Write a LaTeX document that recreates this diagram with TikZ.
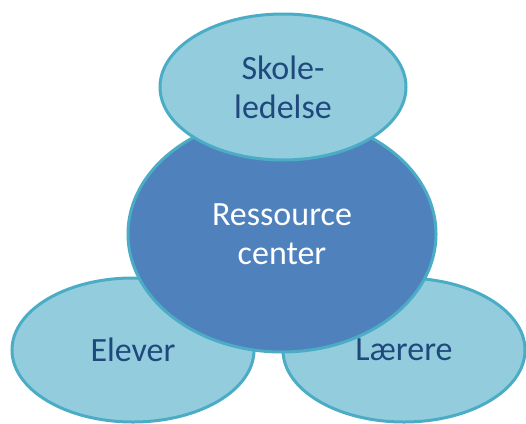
\documentclass[tikz,border=0pt]{standalone}
\usepackage{fontspec}
\setmainfont{Carlito}
\usetikzlibrary{shapes.geometric}

\definecolor{rim}{HTML}{4BACC6}
\definecolor{leaffill}{HTML}{93CDDD}
\definecolor{hubfill}{HTML}{4F81BD}
\definecolor{leaftext}{HTML}{1F497D}

\begin{document}
\begin{tikzpicture}[x=1pt, y=-1pt,
	e/.style={ellipse, draw=rim, line width=3pt, inner sep=0pt, align=center, font=\fontsize{34}{39}\selectfont},
	leaf/.style={e, fill=leaffill, text=leaftext, minimum width=242pt, minimum height=144pt},
	hub/.style={e, fill=hubfill, text=white, minimum width=308pt, minimum height=236pt}]
		\useasboundingbox (0,0) rectangle (526,423);

		\node[leaf] (E) at (133,350) {Elever};
		\node[leaf] (L) at (404,350) {Lærere};
		\node[hub] (R) at (282,234) {Ressource\\center};
		\node[leaf, minimum width=246pt, minimum height=146pt] (S) at (283,87) {Skole-\\ledelse};
	\end{tikzpicture}
\end{document}
